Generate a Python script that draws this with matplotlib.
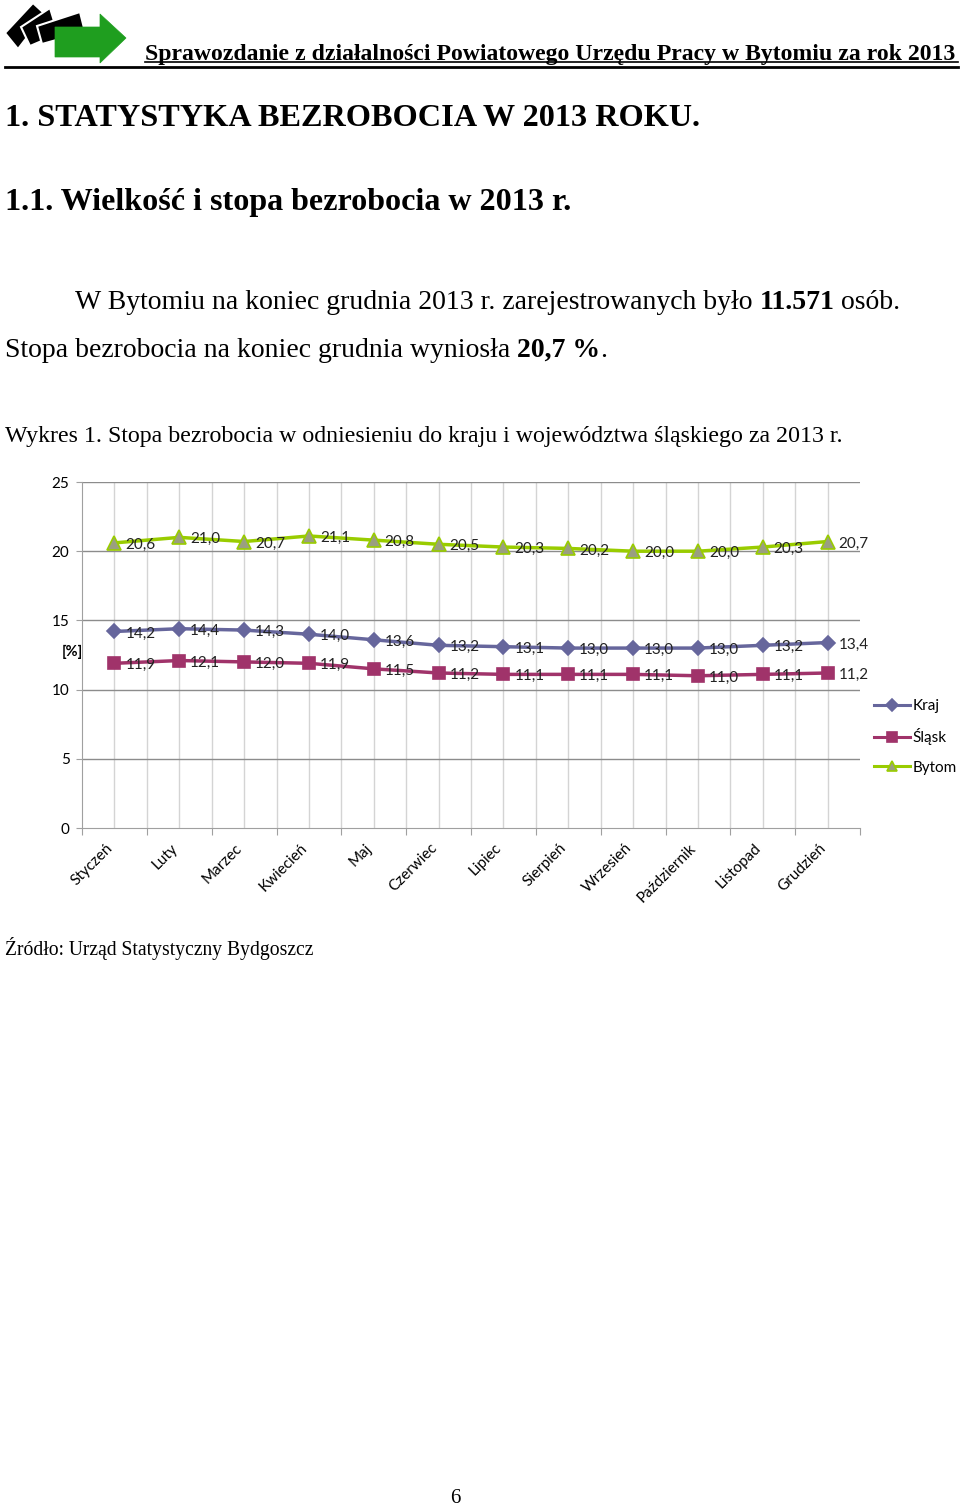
import matplotlib
matplotlib.use("Agg")
import matplotlib.pyplot as plt
from matplotlib.patches import Polygon

W, H = 960, 1507
months = ["Styczeń", "Luty", "Marzec", "Kwiecień", "Maj", "Czerwiec", "Lipiec",
          "Sierpień", "Wrzesień", "Październik", "Listopad", "Grudzień"]
kraj = [14.2, 14.4, 14.3, 14.0, 13.6, 13.2, 13.1, 13.0, 13.0, 13.0, 13.2, 13.4]
slask = [11.9, 12.1, 12.0, 11.9, 11.5, 11.2, 11.1, 11.1, 11.1, 11.0, 11.1, 11.2]
bytom = [20.6, 21.0, 20.7, 21.1, 20.8, 20.5, 20.3, 20.2, 20.0, 20.0, 20.3, 20.7]
series_names = ["Kraj", "Śląsk", "Bytom"]
yticks = [0, 5, 10, 15, 20, 25]

SERIF = ["Liberation Serif", "DejaVu Serif"]
SANS = ["Lato", "DejaVu Sans"]

fig = plt.figure(figsize=(W / 100, H / 100), dpi=100)
fig.patch.set_facecolor("white")
renderer = fig.canvas.get_renderer()


def fx(x):
    return x / W


def fy(y):
    return 1 - y / H


def fit_text(x, y, s, target_w, size, **kw):
    t = fig.text(fx(x), fy(y), s, fontsize=size, va="baseline", **kw)
    w = t.get_window_extent(renderer).width
    t.set_fontsize(size * target_w / w)
    return t


def runs(x, y, parts, size, family=SERIF):
    cur = x
    for s, bold in parts:
        t = fig.text(fx(cur), fy(y), s, fontsize=size, va="baseline",
                     family=family, fontweight="bold" if bold else "normal")
        cur = t.get_window_extent(renderer).x1
    return cur


# overlay axes for logo / rules
ov = fig.add_axes([0, 0, 1, 1], zorder=5)
ov.set_xlim(0, W)
ov.set_ylim(H, 0)
ov.axis("off")
cards = [
    [(5, 33), (33, 3), (45, 14), (18, 49)],
    [(21, 27), (50, 8), (58, 34), (30, 46)],
    [(37, 26), (80, 12), (85, 32), (42, 44)],
]
for c in cards:
    ov.add_patch(Polygon(c, closed=True, fc="black", ec="white", lw=1.5))
ov.add_patch(Polygon([(55, 27), (100, 27), (100, 14), (126, 38), (100, 63), (100, 57), (55, 57)],
                     closed=True, fc="#1f9e1f", ec="#1f9e1f", lw=0.5))
ov.plot([145, 958], [62, 62], color="black", lw=1.2)
ov.plot([5, 958], [66.5, 66.5], color="black", lw=2)

# header and text
fit_text(145, 60, "Sprawozdanie z działalności Powiatowego Urzędu Pracy w Bytomiu za rok 2013",
         958 - 145, 15, family=SERIF, fontweight="bold")
fit_text(5, 126, "1. STATYSTYKA BEZROBOCIA W 2013 ROKU.", 697 - 5, 21,
         family=SERIF, fontweight="bold")
fit_text(5, 210, "1.1. Wielkość i stopa bezrobocia w 2013 r.", 570 - 5, 21,
         family=SERIF, fontweight="bold")
runs(75, 309, [("W Bytomiu na koniec grudnia 2013 r. zarejestrowanych było ", False),
               ("11.571", True), (" osób.", False)], 20)
runs(5, 357, [("Stopa bezrobocia na koniec grudnia wyniosła ", False),
              ("20,7 %", True), (".", False)], 20)
fit_text(5, 442, "Wykres 1. Stopa bezrobocia w odniesieniu do kraju i województwa śląskiego za 2013 r.",
         845 - 5, 15, family=SERIF)
fit_text(5, 955, "Źródło: Urząd Statystyczny Bydgoszcz", 316 - 5, 14, family=SERIF)
fig.text(fx(455), fy(1503), "6", fontsize=15, family=SERIF, ha="center", va="baseline")

# chart
L, R, T, B = 82, 860, 482, 828
ax = fig.add_axes([fx(L), fy(B), (R - L) / W, (B - T) / H])
ax.set_xlim(0, 12)
ax.set_ylim(0, 25)
ax.set_yticks(yticks)
ax.set_yticklabels([str(v) for v in yticks], fontsize=11, family=SANS)
ax.set_xticks(range(13))
ax.set_xticklabels([])
ax.tick_params(axis="x", length=5, color="#a0a0a0")
ax.tick_params(axis="y", length=4, color="#a0a0a0", pad=5)
for v in [i * 0.5 for i in range(1, 24)]:
    ax.axvline(v, color="#d4d4d4", lw=1, zorder=0)
for v in yticks[1:]:
    ax.axhline(v, color="#8c8c8c", lw=1, zorder=0.5)
for s in ("top", "right"):
    ax.spines[s].set_visible(False)
for s in ("left", "bottom"):
    ax.spines[s].set_color("#a0a0a0")

xs = [i + 0.5 for i in range(12)]
styles = [
    (kraj, "#66669c", "D", "#66669c", "#66669c", 7.5),
    (slask, "#a0336a", "s", "#a0336a", "#a0336a", 8.5),
    (bytom, "#99cc00", "^", "#9a9f80", "#99cc00", 9.5),
]
handles = []
for (vals, col, mk, fc, ec, ms), name in zip(styles, series_names):
    h, = ax.plot(xs, vals, color=col, lw=2.5, marker=mk, ms=ms, mfc=fc, mec=ec,
                 mew=1.2, label=name, zorder=3)
    handles.append(h)
    for x, v in zip(xs, vals):
        ax.annotate(f"{v:.1f}".replace(".", ","), (x, v), xytext=(11, -2),
                    textcoords="offset pixels", fontsize=11, family=SANS,
                    va="center", ha="left", color="#222222", zorder=4)

for x, m in zip(xs, months):
    ax.annotate(m, (x, 0), xytext=(-4, -18), textcoords="offset pixels",
                rotation=45, rotation_mode="anchor", ha="right", va="center",
                fontsize=11, family=SANS)

fig.text(fx(72), fy(652), "[%]", fontsize=10.5, family=SANS, fontweight="bold",
         ha="center", va="center")

leg = fig.legend(handles=handles, loc="upper left", bbox_to_anchor=(fx(874), fy(699)),
                 frameon=False, prop={"family": SANS, "size": 11},
                 handlelength=2.35, handletextpad=0.15, labelspacing=1.0,
                 borderaxespad=0, borderpad=0)
for lh in leg.legend_handles:
    lh.set_markersize(6.5)
    lh.set_linewidth(2.2)

fig.savefig("out.png", dpi=100, facecolor="white")
